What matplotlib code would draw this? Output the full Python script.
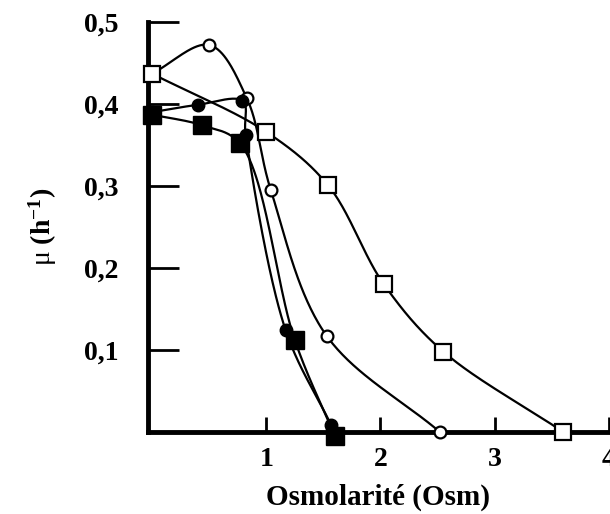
import numpy as np
import matplotlib
matplotlib.use("Agg")
import matplotlib.pyplot as plt

plt.rcParams['font.family'] = ['Liberation Serif', 'DejaVu Serif']
plt.rcParams['mathtext.fontset'] = 'custom'
plt.rcParams['mathtext.rm'] = 'Liberation Serif:bold'
plt.rcParams['mathtext.bf'] = 'Liberation Serif:bold'
plt.rcParams['mathtext.it'] = 'Liberation Serif'

# ---- data ----
open_sq_x = [0.0, 1.0, 1.54, 2.03, 2.55, 3.6]
open_sq_y = [0.437, 0.366, 0.301, 0.180, 0.098, 0.0]

open_ci_x = [0.0, 0.5, 0.83, 1.04, 1.53, 2.52]
open_ci_y = [0.437, 0.472, 0.407, 0.295, 0.117, 0.0]

fill_ci_x = [0.0, 0.40, 0.79, 0.82, 1.17, 1.57]
fill_ci_y = [0.390, 0.399, 0.404, 0.362, 0.124, 0.008]

fill_sq_x = [0.0, 0.44, 0.77, 1.25, 1.6]
fill_sq_y = [0.387, 0.374, 0.352, 0.112, -0.005]

x_ticks = [1, 2, 3, 4]
x_tick_labels = ['1', '2', '3', '4']
y_ticks = [0.1, 0.2, 0.3, 0.4, 0.5]
y_tick_labels = ['0,1', '0,2', '0,3', '0,4', '0,5']


def smooth(xs, ys, n=60, sx=4.0, sy=0.5):
    """Centripetal Catmull-Rom curve through the points (drawing helper)."""
    P = np.column_stack([np.asarray(xs) / sx, np.asarray(ys) / sy])
    P = np.vstack([2 * P[0] - P[1], P, 2 * P[-1] - P[-2]])
    out = []
    for i in range(1, len(P) - 2):
        p0, p1, p2, p3 = P[i - 1], P[i], P[i + 1], P[i + 2]
        t0 = 0.0
        t1 = t0 + max(np.linalg.norm(p1 - p0), 1e-6) ** 0.5
        t2 = t1 + max(np.linalg.norm(p2 - p1), 1e-6) ** 0.5
        t3 = t2 + max(np.linalg.norm(p3 - p2), 1e-6) ** 0.5
        t = np.linspace(t1, t2, n)[:, None]
        A1 = (t1 - t) / (t1 - t0) * p0 + (t - t0) / (t1 - t0) * p1
        A2 = (t2 - t) / (t2 - t1) * p1 + (t - t1) / (t2 - t1) * p2
        A3 = (t3 - t) / (t3 - t2) * p2 + (t - t2) / (t3 - t2) * p3
        B1 = (t2 - t) / (t2 - t0) * A1 + (t - t0) / (t2 - t0) * A2
        B2 = (t3 - t) / (t3 - t1) * A2 + (t - t1) / (t3 - t1) * A3
        C = (t2 - t) / (t2 - t1) * B1 + (t - t1) / (t2 - t1) * B2
        out.append(C)
    C = np.vstack(out)
    return C[:, 0] * sx, C[:, 1] * sy


fig = plt.figure(figsize=(6.10, 5.14), dpi=100)
ax = fig.add_axes([148 / 610, 82 / 514, 461 / 610, 410 / 514])
ax.set_xlim(-0.035, 4.0)
ax.set_ylim(0, 0.5)

lw = 1.6
for xs, ys in [(open_sq_x, open_sq_y), (open_ci_x, open_ci_y),
               (fill_ci_x, fill_ci_y), (fill_sq_x, fill_sq_y)]:
    cx, cy = smooth(xs, ys)
    ax.plot(cx, cy, color='black', lw=lw, clip_on=False, zorder=2)

ax.plot(open_ci_x, open_ci_y, ls='none', marker='o', ms=8.5, mfc='white',
        mec='black', mew=1.6, clip_on=False, zorder=3)
ax.plot(fill_ci_x, fill_ci_y, ls='none', marker='o', ms=9, mfc='black',
        mec='black', clip_on=False, zorder=4)
ax.plot(open_sq_x, open_sq_y, ls='none', marker='s', ms=12, mfc='white',
        mec='black', mew=1.6, clip_on=False, zorder=5)
ax.plot(fill_sq_x, fill_sq_y, ls='none', marker='s', ms=12.5, mfc='black',
        mec='black', clip_on=False, zorder=6)

for s in ['top', 'right']:
    ax.spines[s].set_visible(False)
for s in ['left', 'bottom']:
    ax.spines[s].set_linewidth(3.5)

ax.set_xticks(x_ticks)
ax.set_xticklabels(x_tick_labels, fontsize=20, fontweight='bold')
ax.set_yticks(y_ticks)
ax.set_yticklabels(y_tick_labels, fontsize=20, fontweight='bold')
ax.tick_params(axis='y', direction='in', length=22, width=2, pad=21)
ax.tick_params(axis='x', direction='in', length=11, width=2, pad=11)

ax.set_xlabel('Osmolarité (Osm)', fontsize=21, fontweight='bold', labelpad=8)
ax.set_ylabel(r'$\mu$ (h$^{\mathbf{-1}}$)', fontsize=20, fontweight='bold',
              labelpad=18)

fig.savefig('out.png', dpi=100)
